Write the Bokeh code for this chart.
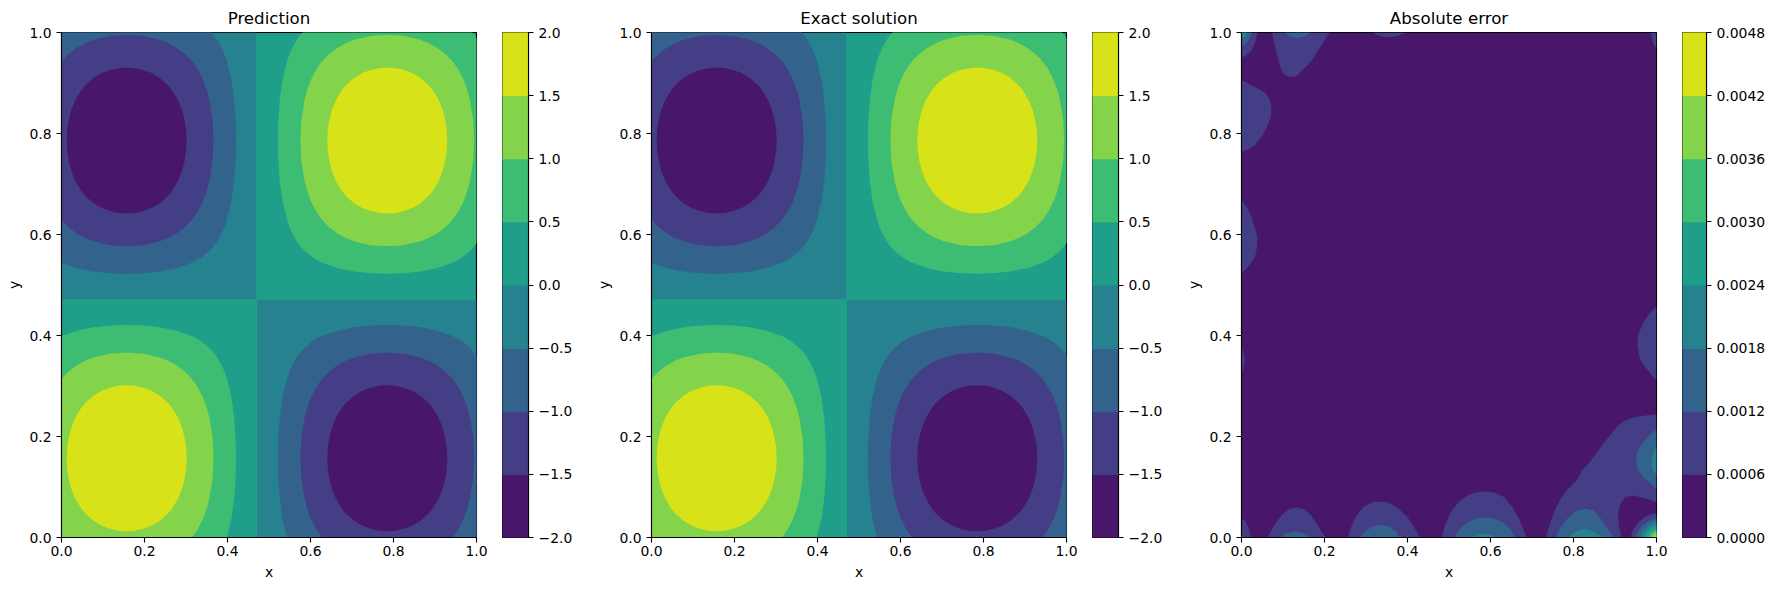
from bokeh.plotting import figure
from bokeh.layouts import row
from bokeh.models import FixedTicker, CustomJSTickFormatter
from bokeh.embed import file_html
from bokeh.resources import INLINE

# ---------- values ----------
titles = ["Prediction", "Exact solution", "Absolute error"]
field_levels = [-2.0, -1.5, -1.0, -0.5, 0.0, 0.5, 1.0, 1.5, 2.0]
error_levels = [0.0, 0.0006, 0.0012, 0.0018, 0.0024, 0.0030, 0.0036, 0.0042, 0.0048]
band_colors = ["#481769", "#433e85", "#33638d", "#26828e", "#1f9e89", "#3dbc74", "#84d44b", "#d8e219"]
axis_ticks = [0.0, 0.2, 0.4, 0.6, 0.8, 1.0]

# Field panels (prediction and exact look the same at this resolution).
# Two rectangles of the -0.5..0 band
neg_rect_left = [0.0, 0.4715]
neg_rect_right = [0.469, 1.0]
neg_rect_bottom = [0.472, 0.0]
neg_rect_top = [1.0, 0.4705]

# Lobe centres as read: (x, y, sign of the lobe)
lobe_x = [0.157, 0.785, 0.157, 0.785]
lobe_y = [0.786, 0.786, 0.157, 0.157]
lobe_sign = [-1, 1, 1, -1]

# One quarter of each closed contour, as distance from the lobe centre
c05_dx = [0, .04, .08, .12, .16, .18, .20, .2089, .21, .218, .2314, .2408, .2526, .2592, .2626, .2636]
c05_dy = [.2636, .2626, .2592, .2526, .2408, .2314, .218, .21, .2089, .20, .18, .16, .12, .08, .04, 0]
c10_dx = [0, .04, .08, .10, .12, .14, .154, .16, .1716, .184, .1929, .1994, .2071, .2094]
c10_dy = [.2094, .2071, .1994, .1929, .184, .1716, .16, .154, .14, .12, .10, .08, .04, 0]
c15_dx = [0, .02, .04, .06, .08, .10, .1091, .1239, .1336, .1397, .1434, .1445]
c15_dy = [.1445, .1434, .1397, .1336, .1239, .1091, .10, .08, .06, .04, .02, 0]

# Error panel: level 0.0006 outlines
e06_a_x = [0, .012, .024, .033, .0385, 0]
e06_a_y = [.95, .955, .965, .98, 1, 1]
e06_b_x = [.0735, .078, .083, .088, .092, .098, .105, .113, .123, .132, .14, .152, .165, .175, .185, .20, .2125]
e06_b_y = [1, .982, .965, .95, .935, .923, .916, .913, .912, .914, .92, .929, .94, .952, .965, .985, 1]
e06_c_x = [.316, .325, .335, .345, .355, .365, .375, .385, .395]
e06_c_y = [1, .996, .993, .991, .991, .991, .993, .996, 1]
e06_d_x = [.986, .99, .995, 1, 1]
e06_d_y = [1, .985, .975, .968, 1]
e06_e_x = [0, .02, .04, .058, .066, .071, .072, .07, .065, .058, .05, .04, .03, .015, 0]
e06_e_y = [.906, .897, .889, .88, .87, .858, .845, .832, .82, .808, .795, .785, .775, .768, .764]
e06_f_x = [0, .008, .015, .024, .03, .035, .0386, .037, .034, .028, .02, .01, 0]
e06_f_y = [.67, .66, .65, .635, .62, .606, .592, .575, .56, .55, .54, .53, .523]
e06_g_x = [0, .005, .008, .005, 0]
e06_g_y = [.378, .365, .351, .335, .321]
e06_h_x = [1, .99, .98, .968, .96, .955, .954, .955, .96, .97, .98, .99, 1]
e06_h_y = [.458, .45, .44, .425, .41, .40, .39, .375, .355, .34, .33, .32, .3115]
e06_i_x = [.7327, .7409, .7528, .7689, .7849, .8089, .821, .839, .863, .891, .908, .925, .94, .952, .97, 1,
           1, .977, .945, .925, .913, .9075, .909, .917]
e06_i_y = [0, .0205, .0502, .0767, .0945, .1143, .133, .149, .176, .2055, .222, .232, .236, .239, .241, .244,
           .07, .0767, .0833, .08, .0668, .0469, .0238, 0]
e06_j_x = [.937, .9451, .9571, .9732, 1, 1]
e06_j_y = [0, .0172, .0304, .0423, .0489, 0]
e06_k_x = [0, .008, .016, .0236, 0]
e06_k_y = [.037, .034, .022, 0, 0]
e06_l_x = [.062, .0717, .0837, .0998, .1158, .1342, .1518, .1679, .1839, .1959, .2023]
e06_l_y = [0, .0139, .0304, .0469, .0568, .0595, .0555, .0436, .0238, .0073, 0]
e06_m_x = [.256, .2656, .2784, .2961, .3161, .3321, .3522, .3762, .4002, .4163, .4299]
e06_m_y = [0, .0238, .0456, .0615, .0701, .0714, .0694, .0588, .0403, .0205, 0]
e06_n_x = [.482, .49, .5044, .5244, .5485, .5725, .5885, .6086, .6326, .6526, .6687, .679, .6871]
e06_n_y = [0, .0238, .0502, .072, .0853, .0905, .0912, .0892, .08, .0601, .037, .0172, 0]

# level 0.0012 outlines
e12_a_x = [0, .015, .025, 0]
e12_a_y = [.972, .982, 1, 1]
e12_b_x = [.105, .12, .135, .15, .168]
e12_b_y = [1, .991, .989, .992, 1]
e12_k_x = [0, .005, 0]
e12_k_y = [.0073, 0, 0]
e12_l_x = [.0942, .1078, .1294, .1478, .1679]
e12_l_y = [0, .0086, .0119, .0093, 0]
e12_m_x = [.2865, .3001, .3201, .3377, .3562, .3722, .3802]
e12_m_y = [0, .0139, .0231, .0251, .0218, .0126, 0]
e12_n_x = [.5124, .5284, .5485, .5685, .5885, .6086, .6286, .6446, .6607]
e12_n_y = [0, .0192, .0324, .0383, .0397, .0377, .0304, .0192, 0]
e12_o_x = [.7568, .7689, .7849, .805, .8289, .849, .8691, .8851, .8971]
e12_o_y = [0, .0205, .037, .0522, .0575, .0535, .0337, .0139, 0]
e12_p_x = [1, .985, .975, .965, .958, .953, .951, .952, .955, .962, .97, .978, .987, 1]
e12_p_y = [.2135, .205, .195, .185, .175, .167, .159, .147, .135, .126, .118, .112, .106, .0965]
e12_j_x = [.949, .957, .968, .982, 1, 1]
e12_j_y = [0, .014, .025, .033, .038, 0]

# level 0.0018 and up
e18_a_x = [0, .009, .013, 0]
e18_a_y = [.988, .992, 1, 1]
e18_n_x = [.5525, .5725, .5845, .6006, .6166]
e18_n_y = [0, .0053, .0073, .0053, 0]
e18_o_x = [.7849, .805, .8289, .85, .873]
e18_o_y = [0, .012, .0172, .0115, 0]
e18_p_x = [1, .994, .99, .988, .99, .994, 1]
e18_p_y = [.179, .17, .16, .149, .138, .13, .123]
e18_j_x = [.961, .967, .976, .988, 1, 1]
e18_j_y = [0, .012, .02, .028, .032, 0]
e24_j_x = [.970, .976, .984, .992, 1, 1]
e24_j_y = [0, .01, .017, .022, .026, 0]
e30_j_x = [.98, .985, .992, 1, 1]
e30_j_y = [0, .008, .013, .017, 0]
e36_j_x = [.988, .992, .996, 1, 1]
e36_j_y = [0, .006, .009, .012, 0]
e42_j_x = [.994, .997, 1, 1]
e42_j_y = [0, .003, .006, 0]

error_rings = [
    (1, e06_a_x, e06_a_y), (1, e06_b_x, e06_b_y), (1, e06_c_x, e06_c_y), (1, e06_d_x, e06_d_y),
    (1, e06_e_x, e06_e_y), (1, e06_f_x, e06_f_y), (1, e06_g_x, e06_g_y), (1, e06_h_x, e06_h_y),
    (1, e06_i_x, e06_i_y), (1, e06_j_x, e06_j_y), (1, e06_k_x, e06_k_y), (1, e06_l_x, e06_l_y),
    (1, e06_m_x, e06_m_y), (1, e06_n_x, e06_n_y),
    (2, e12_a_x, e12_a_y), (2, e12_b_x, e12_b_y), (2, e12_k_x, e12_k_y), (2, e12_l_x, e12_l_y),
    (2, e12_m_x, e12_m_y), (2, e12_n_x, e12_n_y), (2, e12_o_x, e12_o_y), (2, e12_p_x, e12_p_y),
    (2, e12_j_x, e12_j_y),
    (3, e18_a_x, e18_a_y), (3, e18_n_x, e18_n_y), (3, e18_o_x, e18_o_y), (3, e18_p_x, e18_p_y),
    (3, e18_j_x, e18_j_y),
    (4, e24_j_x, e24_j_y), (5, e30_j_x, e30_j_y), (6, e36_j_x, e36_j_y), (7, e42_j_x, e42_j_y),
]


def closed_ring(cx, cy, dx, dy):
    """Walk the four mirrored quarters of an outline round its centre."""
    xs = [cx + a for a in dx] + [cx + a for a in reversed(dx)] + [cx - a for a in dx] + [cx - a for a in reversed(dx)]
    ys = [cy + b for b in dy] + [cy - b for b in reversed(dy)] + [cy - b for b in dy] + [cy + b for b in reversed(dy)]
    return xs, ys


field_rings = []
for cx, cy, sign in zip(lobe_x, lobe_y, lobe_sign):
    for k, (dx, dy) in enumerate([(c05_dx, c05_dy), (c10_dx, c10_dy), (c15_dx, c15_dy)]):
        band = 5 + k if sign > 0 else 2 - k
        xs, ys = closed_ring(cx, cy, dx, dy)
        field_rings.append((band, xs, ys))

# ---------- drawing ----------
FONT = "DejaVu Sans"
TICK_PX = "13.9px"
FRAME_LEFT, FRAME_W, GAP, BAR_W = 61, 415, 26, 26
FRAME_TOP, FRAME_H, BOTTOM = 32, 505, 48


def style_axis(ax, decimals):
    ax.axis_line_color = "black"
    ax.axis_line_width = 1.1
    ax.major_tick_line_color = "black"
    ax.major_tick_line_width = 1.1
    ax.major_tick_out = 5
    ax.major_tick_in = 0
    ax.minor_tick_line_color = None
    ax.major_label_text_font = FONT
    ax.major_label_text_font_size = TICK_PX
    ax.major_label_text_color = "black"
    ax.major_label_standoff = 5
    ax.formatter = CustomJSTickFormatter(
        code="return tick.toFixed(%d).replace('-', '\\u2212')" % decimals)


def panel(title, base_band, rects, rings):
    p = figure(width=FRAME_LEFT + FRAME_W + GAP, height=FRAME_TOP + FRAME_H + BOTTOM,
               x_range=(0, 1), y_range=(0, 1), output_backend="svg", toolbar_location=None,
               min_border_left=FRAME_LEFT, min_border_right=GAP, min_border_top=FRAME_TOP,
               min_border_bottom=BOTTOM, title=title, x_axis_label="x", y_axis_label="y")
    p.background_fill_color = band_colors[base_band]
    p.border_fill_color = "white"
    p.grid.visible = False
    p.outline_line_color = "black"
    p.outline_line_width = 1.1
    p.title.align = "center"
    p.title.text_font = FONT
    p.title.text_font_size = "16.67px"
    p.title.text_font_style = "normal"
    p.title.text_color = "black"
    p.title.standoff = 10
    for ax in (p.xaxis[0], p.yaxis[0]):
        style_axis(ax, 1)
        ax.ticker = FixedTicker(ticks=axis_ticks)
        ax.axis_label_text_font = FONT
        ax.axis_label_text_font_size = TICK_PX
        ax.axis_label_text_font_style = "normal"
        ax.axis_label_text_color = "black"
    p.xaxis[0].major_label_standoff = 3
    p.xaxis[0].axis_label_standoff = 5
    p.yaxis[0].axis_label_standoff = 4
    if rects:
        p.quad(left=rects[0], right=rects[1], bottom=rects[2], top=rects[3],
               fill_color=band_colors[3], line_color=None)
    p.patches(xs=[r[1] for r in rings], ys=[r[2] for r in rings],
              fill_color=[band_colors[r[0]] for r in rings], line_color=None)
    return p


def colorbar(levels, decimals, right):
    c = figure(width=BAR_W + right, height=FRAME_TOP + FRAME_H + BOTTOM,
               x_range=(0, 1), y_range=(levels[0], levels[-1]), output_backend="svg",
               toolbar_location=None, y_axis_location="right", x_axis_location=None,
               min_border_left=0, min_border_right=right, min_border_top=FRAME_TOP,
               min_border_bottom=BOTTOM)
    c.grid.visible = False
    c.outline_line_color = "black"
    c.outline_line_width = 1.1
    style_axis(c.yaxis[0], decimals)
    c.yaxis[0].ticker = FixedTicker(ticks=levels)
    # an outline in each band's own colour closes the hairline seams between bands
    c.quad(left=0, right=1, bottom=levels[:-1], top=levels[1:],
           fill_color=band_colors, line_color=band_colors, line_width=1)
    return c


rects = (neg_rect_left, neg_rect_right, neg_rect_bottom, neg_rect_top)
items = [
    panel(titles[0], 4, rects, field_rings), colorbar(field_levels, 1, 62),
    panel(titles[1], 4, rects, field_rings), colorbar(field_levels, 1, 62),
    panel(titles[2], 0, None, error_rings), colorbar(error_levels, 4, 60),
]
page = row(*items, spacing=0)
open("out.html", "w").write(file_html(page, INLINE))
